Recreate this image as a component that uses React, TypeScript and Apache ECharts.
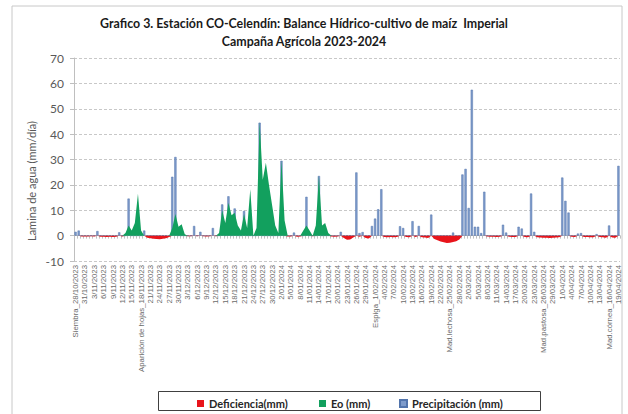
import React, { useEffect, useRef } from "react";
import * as echarts from "echarts";

// ---- Data ----
const NUM_DAYS = 175; // 28/10/2023 .. 19/04/2024
const START = { y: 2023, m: 9, d: 28 };
const STAGE_LABELS: Record<number, string> = {
  0: "Siembra_",
  21: "Aparición de hojas_",
  96: "Espiga_",
  120: "Mad.lechosa_",
  150: "Mad.pastosa_",
  171: "Mad.córnea_",
};
const categories: string[] = Array.from({ length: NUM_DAYS }, (_, i) => {
  const dt = new Date(START.y, START.m, START.d + i);
  const s = `${dt.getDate()}/${String(dt.getMonth() + 1).padStart(2, "0")}/${dt.getFullYear()}`;
  return (STAGE_LABELS[i] || "") + s;
});

const precipitacion = [
  1.5, 2, 0, 0, 0, 0, 0, 1.8, 0, 0,
  0, 0, 0, 0, 1.3, 0, 0, 14.6, 0, 0,
  0, 0, 2, 0, 0, 0, 0, 0, 0, 0,
  0, 23.2, 31, 0, 0, 0, 0, 0, 3.8, 0,
  1.5, 0, 0, 0, 3, 0, 0, 12.3, 0, 15.5,
  0, 10.7, 0, 0, 9.7, 0, 0, 0, 0, 44.5,
  0, 0, 0, 0, 0, 0, 29.5, 0, 0, 0,
  1.2, 0, 0, 0, 15.3, 0, 0, 0, 23.5, 0,
  0, 0, 0, 0, 0, 1.5, 0, 0, 0, 0,
  24.9, 1, 1.4, 0, 0, 3.8, 6.7, 10.4, 18.3, 0,
  0, 0, 0, 0, 3.7, 3, 0, 0, 5.7, 0,
  3.8, 0, 0, 0, 8.3, 0, 0, 0, 0, 0,
  0, 1.2, 0, 0, 24.1, 26.3, 10.9, 57.5, 3.5, 3.5,
  1, 17.3, 0, 0, 0, 0, 0, 4.3, 1.2, 0,
  0, 0, 3.5, 2.8, 0, 0, 16.6, 1.5, 0, 0,
  0, 0, 0, 0, 0, 0, 22.9, 13.7, 9.1, 0,
  0, 0.8, 1, 0, 0, 0, 0, 0.6, 0, 0,
  0, 4, 0, 0, 27.5,
];

const eo = [
  0, 0, 0, 0, 0, 0, 0, 0, 0, 0,
  0, 0, 0, 0, 0, 0, 1, 4, 2, 5,
  16.5, 2, 0, 0, 0, 0, 0, 0, 0, 0,
  0, 3, 8.5, 3.5, 4.5, 0.5, 0, 0, 0, 0,
  0, 0, 0, 0, 0, 0, 1, 10, 5, 13,
  8, 9, 4, 2, 8.5, 3, 18.3, 0, 3, 44.8,
  22, 28.7, 20, 12, 4, 1, 29.7, 6, 0, 0,
  0, 0, 0, 2, 4, 2, 0, 4, 23.5, 4,
  5, 1, 0, 0, 0, 0, 0, 0, 0, 0,
  0, 0, 0, 0, 0, 0, 0, 0, 0, 0,
  0, 0, 0, 0, 0, 0, 0, 0, 0, 0,
  0, 0, 0, 0, 0, 0, 0, 0, 0, 0,
  0, 0, 0, 0, 0, 0, 0, 0, 0, 0,
  0, 0, 0, 0, 0, 0, 0, 0, 0, 0,
  0, 0, 0, 0, 0, 0, 0, 0, 0, 0,
  0, 0, 0, 0, 0, 0, 0, 0, 0, 0,
  0, 0, 0, 0, 0, 0, 0, 0, 0, 0,
  0, 0, 0, 0, 0,
];

const deficiencia = [
  0, 0, -0.3, -0.3, -0.3, -0.2, -0.3, 0, -0.4, -0.4,
  -0.5, -0.4, -0.5, -0.4, 0, -0.3, 0, 0, 0, 0,
  0, 0, 0, -0.8, -1, -1.2, -1.3, -1.4, -1.2, -1,
  -0.5, 0, 0, 0, 0, 0, -0.2, -0.2, 0, -0.2,
  0, -0.2, -0.3, -0.2, 0, -0.2, 0, 0, 0, 0,
  0, 0, 0, 0, 0, 0, 0, 0, 0, 0,
  0, 0, 0, 0, 0, 0, 0, 0, -0.3, -0.3,
  0, -0.4, -0.3, 0, 0, 0, -0.2, 0, 0, 0,
  0, 0, -0.3, -0.4, -0.3, 0, -0.9, -1.6, -1.5, -0.7,
  0, -0.4, 0, -0.9, -1.1, 0, 0, 0, 0, -0.5,
  -0.6, -0.5, -0.6, -0.5, 0, 0, -0.5, -0.6, 0, -0.5,
  0, -0.6, -0.7, -0.9, 0, -1.3, -1.8, -2.3, -2.6, -2.9,
  -2.8, -2.5, -2.2, -1.5, 0, 0, 0, 0, 0, 0,
  0, 0, -0.3, -0.4, -0.4, -0.5, -0.4, 0, 0, -0.4,
  -0.5, -0.5, 0, 0, -0.5, -0.6, 0, 0, -0.6, -0.7,
  -0.8, -0.8, -0.9, -0.8, -0.7, -0.6, 0, 0, 0, -0.4,
  -0.5, 0, 0, -0.5, -0.5, -0.6, -0.6, 0, -0.5, -0.6,
  -0.8, 0, -0.7, -0.8, 0,
];

const TITLE_1 = "Grafico 3. Estación CO-Celendín: Balance Hídrico-cultivo de maíz  Imperial";
const TITLE_2 = "Campaña Agrícola 2023-2024";
const Y_NAME = "Lamina de agua (mm/día)";
const SERIES_NAMES = ["Deficiencia(mm)", "Eo (mm)", "Precipitación (mm)"];

const RED = "#E8141B";
const GREEN = "#12A05E";
const BLUE = "#7E9BCB";
const BLUE_EDGE = "#5274AC";
const FONT = "Lato, 'Liberation Sans', sans-serif";
const GREY_TXT = "#595959";

export default function App() {
  const ref = useRef<HTMLDivElement>(null);
  useEffect(() => {
    if (!ref.current) return;
    const chart = echarts.init(ref.current, undefined, { renderer: "svg" });
    const legendCommon = {
      icon: "rect",
      itemWidth: 7,
      itemHeight: 7,
      top: 393,
      itemGap: 4,
      textStyle: { fontFamily: FONT, fontSize: 11, fontWeight: "bold", color: "#262626" },
    };
    chart.setOption({
      animation: false,
      backgroundColor: "#ffffff",
      textStyle: { fontFamily: FONT },
      grid: { left: 74, right: 8, top: 58, bottom: 153, containLabel: false },
      legend: [
        { ...legendCommon, left: 192, data: [SERIES_NAMES[0]] },
        { ...legendCommon, left: 314, data: [SERIES_NAMES[1]] },
        { ...legendCommon, left: 394, data: [SERIES_NAMES[2]] },
      ],
      graphic: [
        {
          type: "rect",
          shape: { x: 12, y: 6, width: 610, height: 420 },
          style: { fill: "none", stroke: "#c8c8c8", lineWidth: 1 },
          silent: true,
        },
        {
          type: "rect",
          shape: { x: 158.5, y: 391.5, width: 382, height: 19 },
          style: { fill: "none", stroke: "#404040", lineWidth: 1 },
          silent: true,
        },
        {
          type: "text",
          x: 304,
          y: 23,
          style: {
            text: TITLE_1,
            font: `bold 12.4px ${FONT}`,
            fill: "#1a1a1a",
            textAlign: "center",
            textVerticalAlign: "middle",
            align: "center",
            verticalAlign: "middle",
          },
        },
        {
          type: "text",
          x: 304,
          y: 41,
          style: {
            text: TITLE_2,
            font: `bold 12.4px ${FONT}`,
            fill: "#1a1a1a",
            textAlign: "center",
            textVerticalAlign: "middle",
            align: "center",
            verticalAlign: "middle",
          },
        },
        {
          type: "text",
          x: 31,
          y: 181,
          rotation: Math.PI / 2,
          style: {
            text: Y_NAME,
            font: `11px ${FONT}`,
            fill: GREY_TXT,
            textAlign: "center",
            textVerticalAlign: "middle",
            align: "center",
            verticalAlign: "middle",
          },
        },
      ],
      xAxis: [
        {
          type: "category",
          data: categories,
          position: "bottom",
          axisLine: { show: false, onZero: false },
          axisTick: { show: false },
          splitLine: { show: false },
          axisLabel: {
            interval: 2,
            rotate: 90,
            fontSize: 7.8,
            fontFamily: "'Liberation Sans', sans-serif",
            color: "#6a6a6a",
            margin: 4,
          },
        },
        {
          type: "category",
          data: categories,
          position: "bottom",
          axisLine: { show: true, onZero: true, lineStyle: { color: "#bfbfbf", width: 1 } },
          axisTick: { show: true, interval: 0, length: 3, lineStyle: { color: "#bfbfbf" } },
          axisLabel: { show: false },
          splitLine: { show: false },
        },
      ],
      yAxis: {
        type: "value",
        min: -10,
        max: 70,
        interval: 10,
        axisLine: { show: true, lineStyle: { color: "#bfbfbf" } },
        axisTick: { show: true, length: 4, lineStyle: { color: "#bfbfbf" } },
        axisLabel: { fontSize: 12, color: GREY_TXT, margin: 10, fontFamily: FONT },
        splitLine: { show: true, lineStyle: { color: "#c8c8c8", type: [3, 2], width: 1 } },
      },
      series: [
        {
          name: SERIES_NAMES[0],
          type: "line",
          data: deficiencia,
          symbol: "none",
          lineStyle: { width: 0, color: RED },
          itemStyle: { color: RED },
          areaStyle: { color: RED, opacity: 1 },
        },
        {
          name: SERIES_NAMES[1],
          type: "line",
          data: eo,
          symbol: "none",
          lineStyle: { width: 0, color: GREEN },
          itemStyle: { color: GREEN },
          areaStyle: { color: GREEN, opacity: 1 },
        },
        {
          name: SERIES_NAMES[2],
          type: "bar",
          data: precipitacion,
          barWidth: 2.2,
          itemStyle: { color: BLUE, borderColor: BLUE_EDGE, borderWidth: 0.5 },
        },
      ],
    });
    return () => chart.dispose();
  }, []);
  return (
    <div
      ref={ref}
      style={{ position: "fixed", left: 0, top: 0, width: 628, height: 414 }}
    />
  );
}
